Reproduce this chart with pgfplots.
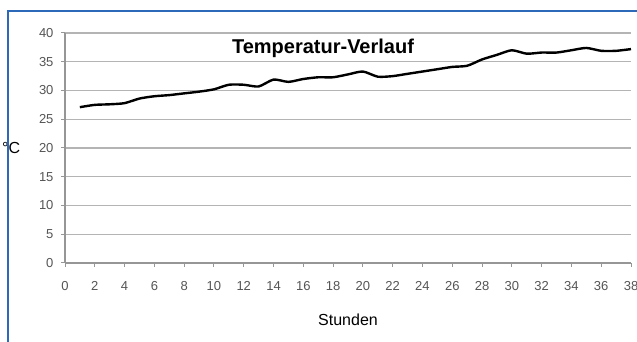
\documentclass[border=0pt]{standalone}
\usepackage{pgfplots}
\pgfplotsset{compat=1.18}
\usepackage{fontspec}
\setmainfont{Liberation Sans}
\definecolor{tickgray}{RGB}{85,85,85}
\definecolor{gridgray}{RGB}{180,180,180}
\definecolor{axisgray}{RGB}{150,150,150}
\definecolor{frameblue}{RGB}{45,105,185}
\pgfplotstableread{
x y
1 27.1
2 27.5
3 27.6
4 27.8
5 28.6
6 29.0
7 29.2
8 29.5
9 29.8
10 30.2
11 31.0
12 31.0
13 30.7
14 31.9
15 31.5
16 32.0
17 32.3
18 32.3
19 32.8
20 33.3
21 32.4
22 32.5
23 32.9
24 33.3
25 33.7
26 34.1
27 34.3
28 35.4
29 36.2
30 37.0
31 36.4
32 36.6
33 36.6
34 37.0
35 37.4
36 36.9
37 36.9
38 37.2
}\temps
\begin{document}
\begin{tikzpicture}[x=1pt,y=1pt]
\useasboundingbox (0,0) rectangle (637,342);
\fill[white] (0,0) rectangle (637,342);
\begin{axis}[
  at={(65pt,79pt)}, anchor=origin,
  scale only axis,
  width=566pt, height=230pt,
  xmin=0, xmax=38, ymin=0, ymax=40,
  xtick={0,2,...,38}, ytick={0,5,...,40},
  axis x line*=bottom, axis y line*=left,
  axis line style={axisgray, line width=1.2pt, -},
  ymajorgrids, grid style={gridgray, line width=1.4pt},
  tick style={axisgray, line width=1pt},
  tick align=outside, major tick length=4pt,
  tick label style={font=\fontsize{13}{15}\selectfont, text=tickgray},
  /pgf/number format/assume math mode=true,
  yticklabel style={xshift=-4pt},
  xticklabel style={yshift=-11pt},
  clip=false,
]
\addplot[black, line width=2.4pt, smooth, tension=0.4] table[x=x,y=y] {\temps};
\end{axis}
\node[font=\bfseries\fontsize{20}{24}\selectfont] at (323,294) {Temperatur-Verlauf};
\node[font=\fontsize{16}{18}\selectfont, anchor=west, inner sep=0pt] at (2,194) {°C};
\node[font=\fontsize{16}{18}\selectfont] at (348,22) {Stunden};
\draw[frameblue, line width=2pt] (8,-2) -- (8,332);
\fill[frameblue] (7,330) rectangle (637,332);
\end{tikzpicture}
\end{document}
